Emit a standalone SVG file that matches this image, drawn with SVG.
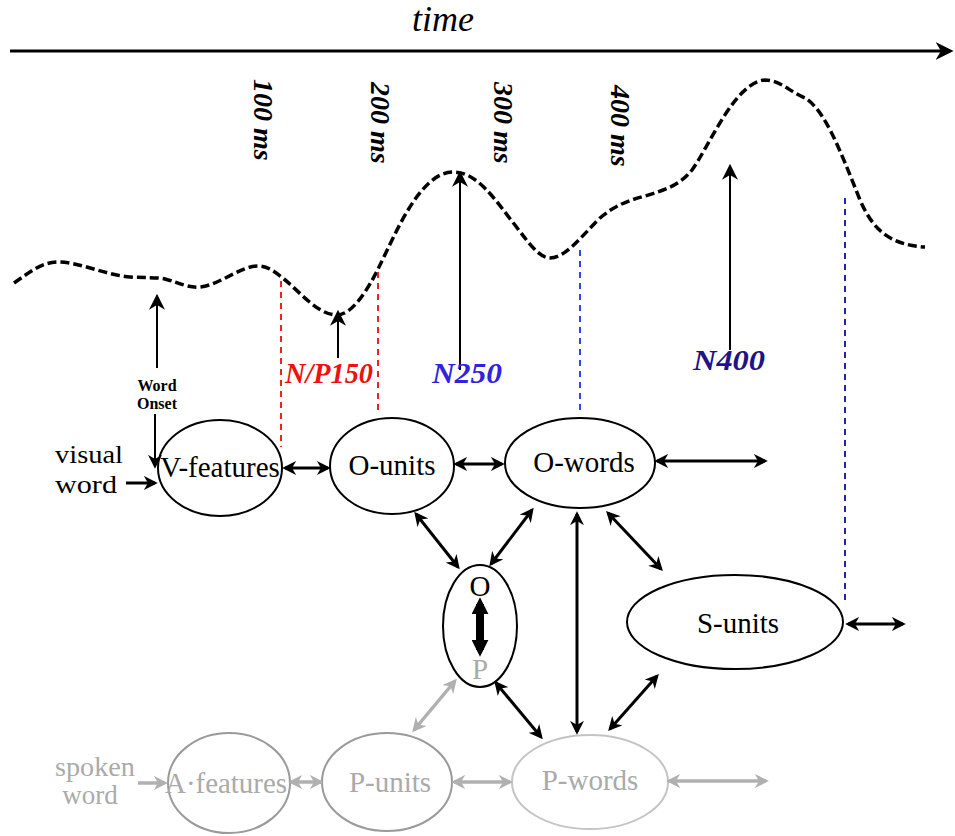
<svg xmlns="http://www.w3.org/2000/svg" width="955" height="836" viewBox="0 0 955 836">
<style>
.t{font-family:"Liberation Serif","Times New Roman",serif;}
.node{fill:none;stroke:#000;stroke-width:2;}
.gnode{fill:none;stroke-width:2;}
.lab{font-family:"Liberation Serif","Times New Roman",serif;font-size:29px;text-anchor:middle;fill:#000;}
.glab{font-family:"Liberation Serif","Times New Roman",serif;font-size:29px;text-anchor:middle;fill:#aaaaaa;}
.ms{font-family:"Liberation Serif","Times New Roman",serif;font-size:28px;font-style:italic;font-weight:bold;}
.erp{font-family:"Liberation Serif","Times New Roman",serif;font-size:29px;font-style:italic;font-weight:bold;text-anchor:middle;}
.c{stroke:#000;stroke-width:3;fill:none;}
.g{stroke:#b0b0b0;stroke-width:3.5;fill:none;}
.thin{stroke:#000;stroke-width:2;fill:none;}
</style>
<defs>
<marker id="ah" viewBox="0 0 10 10" refX="8" refY="5" markerWidth="14" markerHeight="14" markerUnits="userSpaceOnUse" orient="auto-start-reverse">
<path d="M0,0 L10,5 L0,10 L3,5 z" fill="#000"/>
</marker>
<marker id="ahg" viewBox="0 0 10 10" refX="8" refY="5" markerWidth="14" markerHeight="14" markerUnits="userSpaceOnUse" orient="auto-start-reverse">
<path d="M0,0 L10,5 L0,10 L3,5 z" fill="#b0b0b0"/>
</marker>
<marker id="aht" viewBox="0 0 10 10" refX="8" refY="5" markerWidth="16" markerHeight="16" markerUnits="userSpaceOnUse" orient="auto-start-reverse">
<path d="M0,0 L10,5 L0,10 L3,5 z" fill="#000"/>
</marker>
<marker id="ahb" viewBox="0 0 10 10" refX="8" refY="5" markerWidth="18" markerHeight="18" markerUnits="userSpaceOnUse" orient="auto-start-reverse">
<path d="M0,0 L10,5 L0,10 L3,5 z" fill="#000"/>
</marker>
<marker id="ahk" viewBox="0 0 10 10" refX="6" refY="5" markerWidth="17" markerHeight="17" markerUnits="userSpaceOnUse" orient="auto-start-reverse">
<path d="M0,0 L10,5 L0,10 z" fill="#000"/>
</marker>
</defs>

<g id="timeline">
<line x1="10" y1="51" x2="950" y2="51" stroke="#000" stroke-width="3" marker-end="url(#ahb)"/>
<text x="443" y="31" class="t" font-size="36" font-style="italic" text-anchor="middle">time</text>
<text class="ms" transform="translate(254,79) rotate(90)">100 ms</text>
<text class="ms" transform="translate(371,82) rotate(90)">200 ms</text>
<text class="ms" transform="translate(494,82) rotate(90)">300 ms</text>
<text class="ms" transform="translate(611,85) rotate(90)">400 ms</text>
</g>

<g id="waveform">
<path d="M14,283 C30,272 42,262 58,262 C80,262 105,275 130,277 C145,278 155,277 165,279 C180,283 188,288 200,287 C220,285 240,266 258,266 C268,266 275,272 284,279 C300,292 318,315 337,315 C352,315 368,290 380,265 C395,235 420,172 453,172 C478,172 495,200 515,225 C530,245 540,258 550,258 C565,258 580,238 600,218 C615,205 630,200 645,196 C665,190 680,185 692,170 C710,145 735,82 765,80 C780,80 790,92 805,98 C825,110 840,150 860,200 C875,235 895,245 925,247" fill="none" stroke="#000" stroke-width="3.5" stroke-dasharray="9 4"/>
</g>

<g id="guides">
<line x1="281" y1="281" x2="281" y2="447" stroke="#ee2222" stroke-width="2" stroke-dasharray="6 5"/>
<line x1="378" y1="272" x2="378" y2="415" stroke="#ee2222" stroke-width="2" stroke-dasharray="6 5"/>
<line x1="580" y1="250" x2="580" y2="415" stroke="#3344ee" stroke-width="2" stroke-dasharray="6 5"/>
<line x1="845" y1="198" x2="845" y2="600" stroke="#2222aa" stroke-width="2" stroke-dasharray="6 5"/>
</g>

<g id="components">
<line class="thin" x1="157" y1="368" x2="157" y2="297" marker-end="url(#aht)"/>
<text x="157" y="391" class="t" font-size="16" font-weight="bold" text-anchor="middle">Word</text>
<text x="157" y="409" class="t" font-size="16" font-weight="bold" text-anchor="middle">Onset</text>
<line class="thin" x1="155" y1="414" x2="155" y2="466" marker-end="url(#ah)"/>
<line class="thin" x1="338" y1="358" x2="338" y2="313" marker-end="url(#aht)"/>
<line class="thin" x1="460" y1="370" x2="460" y2="174" marker-end="url(#aht)"/>
<line class="thin" x1="730" y1="350" x2="730" y2="167" marker-end="url(#aht)"/>
<text x="329" y="383" class="erp" fill="#ee1111" textLength="88" lengthAdjust="spacingAndGlyphs">N/P150</text>
<text x="467" y="383" class="erp" fill="#3322dd" textLength="70" lengthAdjust="spacingAndGlyphs">N250</text>
<text x="729" y="370" class="erp" fill="#221188" textLength="72" lengthAdjust="spacingAndGlyphs">N400</text>
</g>

<g id="visual-word">
<text x="89" y="463" class="t" font-size="26" text-anchor="middle" textLength="68" lengthAdjust="spacingAndGlyphs">visual</text>
<text x="86" y="493" class="t" font-size="26" text-anchor="middle" textLength="62" lengthAdjust="spacingAndGlyphs">word</text>
</g>
<g id="v-features">
<ellipse class="node" cx="220" cy="468" rx="62" ry="48"/>
<text x="220" y="477" class="lab">V-features</text>
</g>
<g id="o-units">
<ellipse class="node" cx="392" cy="466" rx="62" ry="48"/>
<text x="392" y="475" class="lab">O-units</text>
</g>
<g id="o-words">
<ellipse class="node" cx="580" cy="463" rx="75" ry="45"/>
<text x="584" y="472" class="lab">O-words</text>
</g>
<g id="o-p">
<ellipse class="node" cx="480" cy="626" rx="37" ry="61"/>
<text x="480" y="596" class="lab" font-size="26">O</text>
<text x="480" y="679" class="glab" font-size="26">P</text>
</g>
<g id="s-units">
<ellipse class="node" cx="735" cy="622" rx="108" ry="47"/>
<text x="738" y="633" class="lab" font-size="30">S-units</text>
</g>
<g id="spoken-word">
<text x="95" y="776" class="t" font-size="27" fill="#aaaaaa" text-anchor="middle" textLength="80" lengthAdjust="spacingAndGlyphs">spoken</text>
<text x="90" y="804" class="t" font-size="27" fill="#aaaaaa" text-anchor="middle">word</text>
</g>
<g id="a-features">
<ellipse class="gnode" cx="229" cy="783" rx="61" ry="50" stroke="#9a9a9a"/>
<text x="226" y="793" class="glab" textLength="122" lengthAdjust="spacingAndGlyphs">A·features</text>
</g>
<g id="p-units">
<ellipse class="gnode" cx="387" cy="782" rx="65" ry="49" stroke="#9a9a9a"/>
<text x="390" y="792" class="glab">P-units</text>
</g>
<g id="p-words">
<ellipse class="gnode" cx="590" cy="782" rx="78" ry="47" stroke="#c4c4c4"/>
<text x="590" y="790" class="glab">P-words</text>
</g>

<g id="connectors">
<line class="c" x1="126" y1="483" x2="155" y2="483" marker-end="url(#ah)"/>
<line class="c" x1="285" y1="468" x2="328" y2="468" marker-start="url(#ah)" marker-end="url(#ah)"/>
<line class="c" x1="456" y1="464" x2="502" y2="464" marker-start="url(#ah)" marker-end="url(#ah)"/>
<line class="c" x1="657" y1="461" x2="765" y2="461" marker-start="url(#ah)" marker-end="url(#ah)"/>
<line class="c" x1="416" y1="514" x2="458" y2="567" marker-start="url(#ah)" marker-end="url(#ah)"/>
<line class="c" x1="532" y1="510" x2="491" y2="564" marker-start="url(#ah)" marker-end="url(#ah)"/>
<line class="c" x1="577" y1="514" x2="577" y2="732" marker-start="url(#ah)" marker-end="url(#ah)"/>
<line class="c" x1="608" y1="513" x2="661" y2="569" marker-start="url(#ah)" marker-end="url(#ah)"/>
<line class="c" x1="848" y1="624" x2="903" y2="624" marker-start="url(#ah)" marker-end="url(#ah)"/>
<line class="c" x1="496" y1="683" x2="541" y2="737" marker-start="url(#ah)" marker-end="url(#ah)"/>
<line class="c" x1="657" y1="676" x2="610" y2="729" marker-start="url(#ah)" marker-end="url(#ah)"/>
<line x1="480" y1="604" x2="480" y2="650" stroke="#000" stroke-width="8" marker-start="url(#ahk)" marker-end="url(#ahk)"/>
<line class="g" x1="414" y1="730" x2="455" y2="681" marker-start="url(#ahg)" marker-end="url(#ahg)"/>
<line class="g" x1="138" y1="783" x2="165" y2="783" marker-end="url(#ahg)"/>
<line class="g" x1="291" y1="782" x2="321" y2="782" marker-start="url(#ahg)" marker-end="url(#ahg)"/>
<line class="g" x1="454" y1="782" x2="510" y2="782" marker-start="url(#ahg)" marker-end="url(#ahg)"/>
<line class="g" x1="669" y1="781" x2="766" y2="781" marker-start="url(#ahg)" marker-end="url(#ahg)"/>
</g>
</svg>
